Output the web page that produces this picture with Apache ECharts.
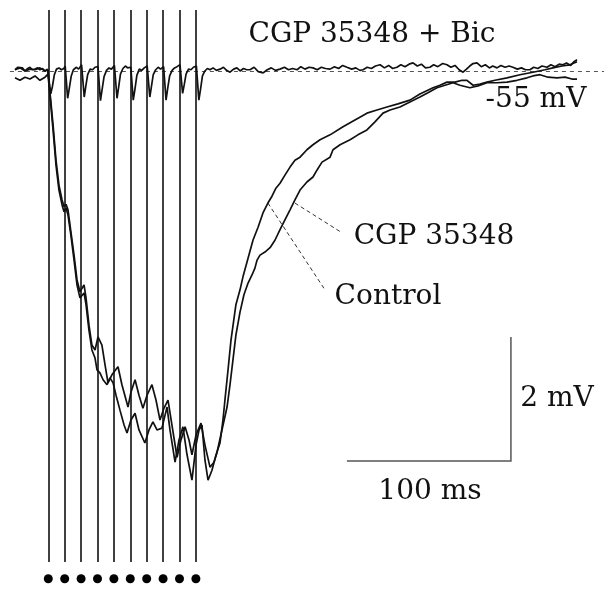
<!DOCTYPE html>
<html>
  <head>
    <meta charset="utf-8">
    <title>IPSP train</title>
    <script src="https://cdn.jsdelivr.net/npm/echarts@6/dist/echarts.min.js"></script>
  </head>
  <body style="margin:0">
    <div id="main" style="width: 604px;height:589px;"></div>
    <script type="text/javascript">
      // time in ms (0 = first stimulus), voltage in mV relative to -55 mV
      var stimTimes = [0, 10, 20, 30, 40, 50, 60, 70, 80, 90]

      var bicTrace = [
        [-20.3, 0.02], [-18.5, 0.06], [-17.3, 0.03], [-15.8, 0.05], [-14.2, 0], [-12.5, 0.04], [-11.2, 0.06], [-9.6, 0.02], [-8.1, 0.03], [-6.5, 0.05], [-5.1, 0.02], [-3.5, 0.04], [-2.0, 0], [-0.5, 0.03],
        [0.3, 0.06], [1.5, -0.37], [2.5, -0.25], [3.7, -0.06], [5.0, 0.03], [6.5, 0.05], [8.0, 0.02], [9.5, 0.04],
        [10.3, 0.08], [11.8, -0.44], [12.8, -0.28], [14.0, -0.08], [15.3, 0.02], [17.0, 0.06], [18.5, 0.03], [19.6, 0.05],
        [20.3, 0.10], [21.9, -0.42], [22.9, -0.24], [24.0, -0.06], [25.5, 0.03], [27.0, 0.02], [28.5, 0.06], [29.6, 0.04],
        [30.3, 0.07], [31.8, -0.48], [32.8, -0.30], [34.0, -0.09], [35.5, 0.01], [37.0, 0.05], [38.5, 0.03], [39.6, 0.06],
        [40.3, 0.09], [41.9, -0.44], [42.9, -0.26], [44.0, -0.05], [45.5, 0.04], [47.0, 0.08], [48.4, 0.05], [49.6, 0.03],
        [50.3, 0.06], [51.8, -0.47], [52.8, -0.30], [54.0, -0.07], [55.5, 0.03], [57.0, 0.01], [58.5, 0.05], [59.6, 0.04],
        [60.3, 0.08], [61.9, -0.42], [62.9, -0.25], [64.0, -0.06], [65.5, 0.02], [67.0, 0.06], [68.5, 0.03], [69.6, 0.02],
        [70.3, 0.07], [71.8, -0.47], [72.8, -0.28], [74.0, -0.08], [75.5, 0.01], [77.0, 0.05], [78.5, 0.07], [79.6, 0.04],
        [80.3, 0.10], [81.9, -0.36], [82.9, -0.22], [84.0, -0.05], [85.5, 0.03], [87.0, 0.02], [88.5, 0.06], [89.6, 0.03],
        [90.3, 0.08], [91.8, -0.47], [92.8, -0.30], [94.0, -0.08], [95.5, 0.00], [97.0, 0.04], [98.6, 0.02],
        [100.5, 0.05], [102.5, 0.01], [104.7, 0.03], [106.8, 0.06], [108.7, 0.01], [110.8, -0.02], [113, 0.03], [115, 0.05], [117, 0.0], [119, 0.04],
        [121, 0.02], [123, 0.02], [125.5, 0.06], [128, -0.01], [131, -0.03], [133.5, 0.02], [136, 0.05], [138.5, 0.01], [141.3, 0.03], [144, 0.06],
        [146.5, 0.02], [149, 0.04], [151.7, 0.02], [154, 0.07], [156.5, 0.03], [159, 0.06], [161.4, 0.05], [164, 0.02], [166.5, 0.06], [169, 0.04],
        [171.8, 0.03], [174.5, 0.07], [177, 0.04], [179.5, 0.09], [182.1, 0.06], [185, 0.03], [187.5, 0.05], [190, 0.01], [191.9, 0.02], [194.5, 0.06],
        [197, 0.04], [199.5, 0.08], [202.3, 0.10], [205, 0.05], [207.5, 0.09], [210, 0.04], [212.6, 0.06], [215, 0.10], [217.5, 0.07], [220, 0.11],
        [222.4, 0.13], [225, 0.08], [227.5, 0.11], [230, 0.05], [232.7, 0.06], [235, 0.10], [237.5, 0.07], [240.5, 0.12], [243.1, 0.10], [245.5, 0.06],
        [248, 0.09], [250.5, 0.02], [252.9, -0.02], [255, 0.03], [257, 0.08], [259, 0.12], [261.4, 0.13], [264, 0.07], [266.5, 0.10], [269, 0.05],
        [271, 0.08], [273.6, 0.05], [276, 0.09], [278.5, 0.06], [281, 0.08], [283.3, 0.06], [286, 0.03], [288.5, 0.05], [291, 0.02], [293.7, 0.02],
        [296, 0.06], [298.5, 0.04], [301, 0.08], [304.1, 0.06], [306.5, 0.10], [309, 0.07], [311.5, 0.11], [313.8, 0.10], [316, 0.13], [318.5, 0.09],
        [320.5, 0.15], [322.4, 0.18]
      ]

      var controlTrace = [
        [-20.3, -0.11], [-17.3, -0.15], [-14.2, -0.10], [-11.2, -0.13], [-8.1, -0.08], [-5.1, -0.15], [-2.0, -0.10], [-0.2, -0.05],
        [1.0, -0.39], [2.9, -0.95], [4.7, -1.52], [6.5, -1.92], [8.4, -2.16], [9.6, -2.27], [10.8, -2.21], [12.0, -2.32],
        [13.8, -2.65], [15.7, -3.05], [17.5, -3.45], [19.3, -3.66], [20.5, -3.69], [21.8, -3.58], [23.0, -3.77], [24.8, -4.18],
        [26.6, -4.50], [28.5, -4.63], [29.7, -4.82], [31.5, -4.87], [33.4, -4.98], [35.8, -5.06], [37.6, -4.95], [39.5, -5.03],
        [41.3, -5.23], [43.7, -5.47], [46.2, -5.71], [48.0, -5.84], [50.4, -5.63], [52.9, -5.52], [55.3, -5.79], [58.9, -6.00],
        [61.4, -5.79], [63.8, -5.66], [66.3, -5.79], [69.3, -5.76], [71.2, -5.55], [72.4, -5.42], [74.2, -5.79], [77.3, -6.31],
        [79.7, -5.95], [82.1, -5.74], [84.6, -6.19], [87.6, -6.60], [90.1, -6.03], [91.9, -5.79], [93.7, -5.71], [95.5, -6.27],
        [97.4, -6.60], [99.8, -6.44], [102.3, -6.19], [104.7, -6.00], [106.5, -5.63], [107.7, -5.31], [109.6, -4.82], [111.4, -4.34],
        [114.4, -3.77], [116.9, -3.53], [118.7, -3.32], [121.8, -3.02], [124.8, -2.73], [127.9, -2.52], [130.9, -2.29], [133.9, -2.13],
        [136.4, -2.02], [138.8, -1.89], [141.3, -1.81], [144.3, -1.68], [147.4, -1.55], [150.4, -1.44], [153.5, -1.39], [157.7, -1.27],
        [161.4, -1.19], [165.7, -1.11], [171.8, -1.03], [179.7, -0.90], [187.0, -0.79], [194.3, -0.68], [200.4, -0.63], [206.5, -0.58],
        [213.2, -0.53], [220.5, -0.47], [226.6, -0.37], [234.6, -0.27], [238.8, -0.23], [243.1, -0.18], [248.0, -0.18], [252.3, -0.15],
        [255.3, -0.15], [259.0, -0.23], [263.2, -0.21], [267.5, -0.18], [272.4, -0.15], [279.7, -0.11], [287.6, -0.06], [295.5, -0.02],
        [302.9, 0.02], [307.7, 0.05], [313.2, 0.08], [318.1, 0.10], [322.4, 0.15]
      ]

      var cgpTrace = [
        [-20.3, 0.02], [-17.3, 0.05], [-14.2, 0], [-11.2, 0.03], [-8.1, 0.02], [-5.1, 0.05], [-2.0, 0], [-0.2, 0.02],
        [1.0, -0.34], [2.9, -0.87], [4.7, -1.44], [6.5, -1.84], [8.4, -2.08], [9.6, -2.19], [10.8, -2.15], [12.0, -2.24],
        [13.8, -2.60], [15.7, -2.97], [17.5, -3.37], [19.3, -3.56], [20.5, -3.58], [21.8, -3.45], [23.0, -3.66], [24.8, -4.10],
        [26.6, -4.42], [28.5, -4.50], [30.3, -4.29], [32.7, -4.42], [34.6, -4.74], [36.4, -5.03], [38.8, -4.90], [42.5, -4.77],
        [44.9, -5.06], [48.6, -5.42], [50.4, -5.18], [52.9, -4.98], [55.3, -5.23], [57.7, -5.44], [60.2, -5.23], [63.2, -5.06],
        [65.7, -5.31], [68.1, -5.63], [70.5, -5.44], [73.0, -5.31], [75.4, -5.71], [78.5, -6.23], [80.9, -5.95], [83.4, -5.74],
        [85.8, -5.95], [87.6, -6.19], [90.1, -5.87], [93.1, -5.68], [95.5, -6.03], [98.6, -6.39], [101.0, -6.31], [102.8, -6.16],
        [105.9, -5.79], [109.0, -5.42], [110.8, -5.06], [112.6, -4.66], [114.4, -4.26], [116.9, -3.89], [119.3, -3.61], [121.8, -3.42],
        [124.2, -3.29], [126.0, -3.18], [127.3, -3.05], [129.1, -2.97], [132.1, -2.92], [135.2, -2.85], [138.2, -2.73], [141.3, -2.56],
        [144.3, -2.40], [147.4, -2.24], [150.4, -2.08], [153.5, -1.92], [157.7, -1.79], [161.4, -1.71], [163.8, -1.60], [166.9, -1.47],
        [171.8, -1.39], [173.6, -1.27], [177.9, -1.19], [184.0, -1.11], [188.8, -1.03], [194.3, -0.95], [199.2, -0.82], [204.1, -0.68],
        [208.4, -0.63], [214.4, -0.58], [220.5, -0.50], [226.6, -0.42], [231.5, -0.35], [237.0, -0.27], [241.9, -0.23], [246.8, -0.19],
        [251.0, -0.23], [257.1, -0.27], [262.0, -0.24], [267.5, -0.19], [273.6, -0.19], [279.7, -0.18], [285.8, -0.15], [291.9, -0.11],
        [295.5, -0.08], [299.8, -0.06], [304.7, -0.10], [310.2, -0.11], [315.1, -0.10], [319.3, -0.13], [322.4, -0.13]
      ]

      // scale bar: 100 ms, 2 mV
      var scaleMs = 100
      var scaleMv = 2

      var myChart = echarts.init(document.getElementById('main'));

      var font = '28px "DejaVu Serif"'
      function label(text, x, y) {
        return {
          type: 'text',
          style: { text: text, x: x, y: y, font: font, fill: '#111', textAlign: 'center', textVerticalAlign: 'middle' }
        }
      }

      var traceStyle = { color: '#111', width: 1.7, opacity: 1 }
      function trace(name, data) {
        return { name: name, type: 'line', data: data, symbol: 'none', lineStyle: traceStyle, silent: true, z: 3 }
      }

      // scale bar corner
      var sbX = 182.1, sbY = -6.29

      var option = {
        animation: false,
        grid: { left: 0, right: 0, top: 0, bottom: 0 },
        xAxis: { type: 'value', min: -29.45, max: 338.85, show: false },
        yAxis: { type: 'value', min: -8.355, max: 1.145, show: false },
        graphic: [
          label('CGP 35348 + Bic', 372, 35),
          label('-55 mV', 536, 100),
          label('CGP 35348', 434, 237),
          label('Control', 388, 297),
          label('2 mV', 557, 399),
          label('100 ms', 430, 492)
        ],
        series: [
          {
            // baseline
            type: 'lines', coordinateSystem: 'cartesian2d', silent: true, z: 1,
            lineStyle: { color: '#555', width: 1, type: [4, 4], opacity: 1 },
            data: [{ coords: [[-23.4, 0], [338.85, 0]] }]
          },
          {
            // stimulus artifacts
            type: 'lines', coordinateSystem: 'cartesian2d', silent: true, z: 4,
            lineStyle: { color: '#111', width: 1.6, opacity: 1 },
            data: stimTimes.map(t => ({ coords: [[t, 0.984], [t, -7.92]] }))
          },
          {
            type: 'scatter', silent: true, symbolSize: 9,
            itemStyle: { color: '#000', opacity: 1 },
            data: stimTimes.map(t => [t, -8.19])
          },
          {
            // pointers
            type: 'lines', coordinateSystem: 'cartesian2d', silent: true, z: 2,
            lineStyle: { color: '#333', width: 1, type: [4, 3], opacity: 1 },
            data: [
              { coords: [[133.9, -2.13], [168.7, -3.53]] },
              { coords: [[150.4, -2.13], [179.1, -2.61]] }
            ]
          },
          {
            type: 'lines', coordinateSystem: 'cartesian2d', polyline: true, silent: true, z: 2,
            lineStyle: { color: '#555', width: 1.5, opacity: 1 },
            data: [{ coords: [[sbX, sbY], [sbX + scaleMs, sbY], [sbX + scaleMs, sbY + scaleMv]] }]
          },
          trace('CGP 35348 + Bic', bicTrace),
          trace('CGP 35348', cgpTrace),
          trace('Control', controlTrace)
        ]
      };

      myChart.setOption(option);
    </script>
  </body>
</html>
